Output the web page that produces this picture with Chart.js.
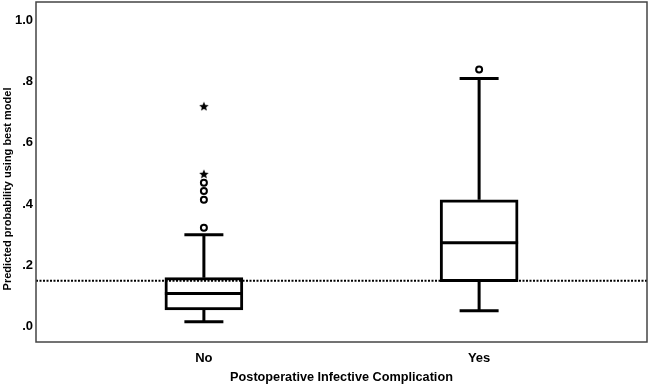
<!DOCTYPE html>
<html>
<head>
<meta charset="utf-8">
<script src="https://cdn.jsdelivr.net/npm/chart.js@4/dist/chart.umd.min.js"></script>
<style>
  html, body { margin: 0; padding: 0; background: #fff; }
  canvas { display: block; }
</style>
</head>
<body>
<canvas id="box_chart" width="649" height="385"></canvas>
<script>
// categories and box statistics
const categories = ['No', 'Yes'];
const q1 = [0.055, 0.147];
const median = [0.108, 0.274];
const q3 = [0.160, 0.414];
const whiskerLow = [0.016, 0.052];
const whiskerHigh = [0.300, 0.810];

// outliers: circles (mild) and stars (extreme)
const circleCat = [0, 0, 0, 0, 1];
const circleVal = [0.323, 0.414, 0.443, 0.470, 0.840];
const starCat = [0, 0];
const starVal = [0.499, 0.720];

const cutoff = 0.15;
const yTicks = [0, 0.2, 0.4, 0.6, 0.8, 1.0];
const yTitle = 'Predicted probability using best model';

const FONT = "'Liberation Sans', Arial, sans-serif";

// ===========================================================================

function makeStar(size) {
    const c = document.createElement('canvas');
    c.width = size; c.height = size;
    const g = c.getContext('2d');
    const cx = size / 2, cy = size / 2 + 0.5, R = size / 2, r = R * 0.45;
    g.beginPath();
    for (let i = 0; i < 10; i++) {
        const a = -Math.PI / 2 + i * Math.PI / 5;
        const rad = i % 2 === 0 ? R : r;
        g.lineTo(cx + rad * Math.cos(a), cy + rad * Math.sin(a));
    }
    g.closePath();
    g.fillStyle = '#000';
    g.fill();
    return c;
}

const boxExtras = {
    id: 'boxExtras',
    afterDatasetsDraw(chart) {
        const { ctx, chartArea, scales: { x, y } } = chart;
        ctx.save();
        ctx.strokeStyle = '#000';
        ctx.lineWidth = 3;
        ctx.lineCap = 'butt';
        const half = 39, cap = 19.5;
        categories.forEach((c, i) => {
            const cx = x.getPixelForValue(i);
            // median
            ctx.beginPath();
            ctx.moveTo(cx - half, y.getPixelForValue(median[i]));
            ctx.lineTo(cx + half, y.getPixelForValue(median[i]));
            // whiskers
            ctx.moveTo(cx, y.getPixelForValue(q3[i]));
            ctx.lineTo(cx, y.getPixelForValue(whiskerHigh[i]));
            ctx.moveTo(cx, y.getPixelForValue(q1[i]));
            ctx.lineTo(cx, y.getPixelForValue(whiskerLow[i]));
            ctx.moveTo(cx - cap, y.getPixelForValue(whiskerHigh[i]));
            ctx.lineTo(cx + cap, y.getPixelForValue(whiskerHigh[i]));
            ctx.moveTo(cx - cap, y.getPixelForValue(whiskerLow[i]));
            ctx.lineTo(cx + cap, y.getPixelForValue(whiskerLow[i]));
            ctx.stroke();
        });
        // dotted reference line
        ctx.lineWidth = 2;
        ctx.setLineDash([2, 1.5]);
        ctx.beginPath();
        const yc = y.getPixelForValue(cutoff);
        ctx.moveTo(chartArea.left, yc);
        ctx.lineTo(chartArea.right, yc);
        ctx.stroke();
        ctx.setLineDash([]);
        // frame
        ctx.strokeStyle = '#444';
        ctx.lineWidth = 1.5;
        ctx.strokeRect(chartArea.left, chartArea.top,
            chartArea.right - chartArea.left, chartArea.bottom - chartArea.top);
        // y axis title, placed a little below centre like the original
        ctx.translate(8, 189);
        ctx.rotate(-Math.PI / 2);
        ctx.fillStyle = '#000';
        ctx.font = 'bold 11px ' + FONT;
        ctx.textAlign = 'center';
        ctx.textBaseline = 'middle';
        ctx.fillText(yTitle, 0, 0);
        ctx.restore();
    }
};

function createBoxChart(el) {
    const star = makeStar(10);
    return new Chart(el, {
        type: 'bar',
        data: {
            datasets: [{
                type: 'bar',
                data: categories.map((c, i) => ({ x: i, y: [q1[i], q3[i]] })),
                backgroundColor: '#fff',
                borderColor: '#000',
                borderWidth: 3,
                borderSkipped: false,
                barThickness: 78
            }, {
                type: 'scatter',
                data: circleVal.map((v, i) => ({ x: circleCat[i], y: v })),
                pointStyle: 'circle',
                pointRadius: 3,
                pointBorderWidth: 2,
                pointBackgroundColor: '#fff',
                pointBorderColor: '#000'
            }, {
                type: 'scatter',
                data: starVal.map((v, i) => ({ x: starCat[i], y: v })),
                pointStyle: star
            }]
        },
        options: {
            responsive: false,
            animation: false,
            layout: { autoPadding: false, padding: { top: 2, right: 2, left: 0, bottom: 0 } },
            plugins: { legend: { display: false }, tooltip: { enabled: false } },
            scales: {
                x: {
                    type: 'linear',
                    offset: false,
                    min: -0.61,
                    max: 1.61,
                    grid: { display: false, drawTicks: false },
                    border: { display: false },
                    afterBuildTicks: (s) => { s.ticks = categories.map((c, i) => ({ value: i })); },
                    afterFit: (s) => { s.height = 43; s.paddingLeft = 0; s.paddingRight = 0; },
                    ticks: {
                        color: '#000',
                        padding: 9,
                        font: { family: FONT, size: 13, weight: 'bold' },
                        callback: (v) => categories[v]
                    },
                    title: {
                        display: true,
                        text: 'Postoperative Infective Complication',
                        color: '#000',
                        padding: { top: 0, bottom: 0 },
                        font: { family: FONT, size: 12.7, weight: 'bold' }
                    }
                },
                y: {
                    min: -0.05,
                    max: 1.06,
                    grid: { display: false, drawTicks: false },
                    border: { display: false },
                    afterBuildTicks: (s) => { s.ticks = yTicks.map(v => ({ value: v })); },
                    afterFit: (s) => { s.width = 36; s.paddingTop = 0; s.paddingBottom = 0; },
                    ticks: {
                        color: '#000',
                        padding: 3,
                        font: { family: FONT, size: 13, weight: 'bold' },
                        callback: (v) => v >= 1 ? '1.0' : '.' + Math.round(v * 10)
                    },
                    title: { display: false }
                }
            }
        },
        plugins: [boxExtras]
    });
}

//===========================================================================

createBoxChart(document.getElementById('box_chart'));
</script>
</body>
</html>
